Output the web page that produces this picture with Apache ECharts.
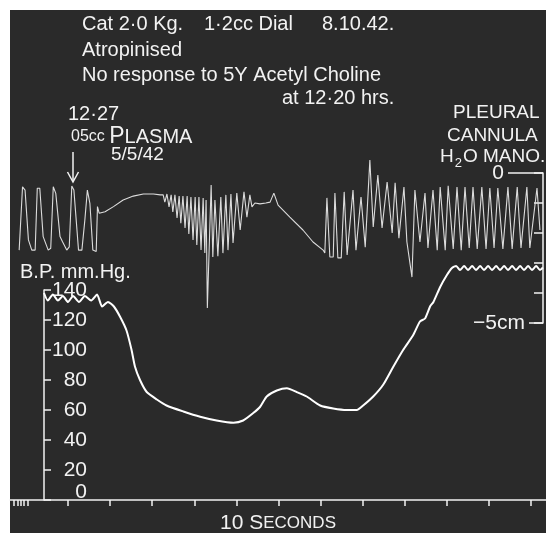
<!DOCTYPE html>
<html>
<head>
<meta charset="utf-8">
<title>Cat 2.0 Kg - B.P. and pleural pressure</title>
<script src="https://cdn.jsdelivr.net/npm/echarts@6/dist/echarts.min.js"></script>
<style>
html, body { margin: 0; padding: 0; background: #fff; }
#chart { width: 546px; height: 533px; }
</style>
</head>
<body>
<div id="chart"></div>
<script>
// blood pressure, [seconds, mm Hg]
var bpPoints = [
  [-5.7, 138], [-4.8, 133], [-3.6, 137], [-2.4, 133], [-1.2, 136], [0, 132], [1.2, 136],
  [2.6, 132], [4.0, 136], [5.5, 133], [6.9, 137], [8.1, 129], [9.5, 132], [10.9, 129],
  [12.4, 122], [13.9, 113], [15.1, 100], [15.9, 89], [17.1, 80], [18.7, 72], [21.1, 67],
  [23.4, 63], [27.4, 59], [31.4, 55.5], [35.3, 53], [39.3, 51.5], [41.6, 53], [44.0, 58],
  [45.6, 62], [47.2, 69], [49.6, 73], [52.0, 74.5], [54.3, 72], [56.7, 69], [59.9, 63],
  [63.0, 61], [66.2, 60], [68.6, 60], [70.1, 63], [72.5, 69], [74.9, 77], [77.3, 89],
  [79.6, 100], [82.0, 110], [83.6, 119], [84.8, 121], [86.0, 129], [86.8, 132], [88.4, 142],
  [90.0, 150], [91.2, 154.7], [92.2, 156], [93.1, 153.3], [94.1, 156], [95.0, 153.3],
  [96.0, 156], [96.9, 153.3], [97.9, 156], [98.8, 153.3], [99.8, 156], [100.7, 153.3],
  [101.7, 156], [102.6, 153.3], [103.6, 156], [104.5, 153.3], [105.5, 156], [106.4, 153.3],
  [107.4, 156], [108.3, 153.3], [109.3, 156], [110.2, 153.3], [111.2, 156], [112.1, 153.3],
  [112.8, 155]
];

// pleural cannula, water manometer, [seconds, cm H2O]
var pleuralPoints = [
  [-11.6, -2.57], [-10.8, -0.46], [-10.2, -0.57], [-9.4, -2.23], [-8.6, -2.57], [-7.8, -2.57],
  [-7.3, -0.51], [-6.7, -0.51], [-5.9, -2.12], [-4.7, -2.57], [-4.1, -2.51], [-3.5, -0.46],
  [-2.9, -0.68], [-1.9, -2.12], [-1.3, -2.29], [-0.3, -2.57], [0.3, -2.46], [0.9, -0.43],
  [1.4, -0.57], [2.5, -2.57], [3.3, -2.57], [4.0, -1.57], [4.6, -0.57], [5.2, -1.01],
  [5.9, -2.57], [6.7, -2.62], [7.0, -1.12], [7.4, -1.34], [8.8, -1.29], [10.8, -1.12],
  [13.1, -0.90], [15.5, -0.77], [17.9, -0.70], [20.3, -0.70], [21.9, -0.73],
  [22.6, -0.73], [23.0, -0.97], [23.5, -0.70], [24.0, -1.13], [24.5, -0.73], [24.9, -1.30],
  [25.4, -0.73], [25.9, -1.50], [26.4, -0.77], [26.8, -1.67], [27.3, -0.77], [27.8, -1.83],
  [28.3, -0.77], [28.7, -2.03], [29.2, -0.80], [29.7, -2.23], [30.2, -0.80], [30.6, -2.40],
  [31.1, -0.80], [31.6, -2.57], [32.1, -0.83], [32.5, -2.67], [32.8, -0.90], [33.1, -4.50],
  [34.0, -0.40], [34.4, -2.80], [34.9, -0.90], [35.6, -2.77], [36.3, -0.80], [36.8, -2.67],
  [37.5, -0.73], [38.0, -2.57], [38.7, -0.70], [39.2, -2.33], [40.1, -0.67], [40.9, -1.90],
  [41.8, -0.63], [42.5, -1.47], [43.2, -0.73], [43.7, -1.13], [44.4, -1.00], [45.6, -1.03],
  [47.0, -1.00], [48.0, -0.97], [48.9, -0.67], [49.9, -1.07], [52.7, -1.47], [55.8, -1.90],
  [58.2, -2.30], [60.6, -2.57], [61.0, -2.67],
  [61.5, -0.83], [62.2, -2.80], [63.0, -2.80], [63.4, -0.67], [64.1, -2.83], [64.9, -2.83],
  [65.6, -0.63], [66.3, -2.73], [67.7, -0.57], [68.4, -2.57], [69.6, -0.80], [70.6, -2.47],
  [71.7, 0.43], [72.5, -1.80], [73.6, -0.07], [74.6, -1.83], [75.8, -0.30], [77.0, -2.00],
  [77.7, -0.33], [78.6, -2.17], [79.8, -0.47], [80.5, -2.30], [81.7, -3.47], [82.4, -0.57],
  [83.6, -2.30], [84.8, -0.67], [85.5, -2.50], [86.7, -0.57], [87.7, -2.57], [88.4, -0.47],
  [89.6, -2.57], [90.3, -0.43], [91.5, -2.53], [92.4, -0.47], [93.4, -2.57], [94.3, -0.47],
  [95.3, -2.50], [96.2, -0.47], [97.2, -2.53], [98.3, -0.47], [99.3, -2.53], [100.2, -0.50],
  [101.2, -2.50], [102.1, -0.50], [103.3, -2.53], [104.5, -0.47], [105.5, -2.53], [106.7, -0.47],
  [107.6, -2.50], [109.0, -0.47], [109.7, -2.50], [111.4, -0.50], [112.1, -1.90]
];

// time marker, seconds
var timeTicks = [0, 10, 20, 30, 40, 50, 60, 70, 80, 90, 100, 110];
var fineTimeTicks = [-12.8, -12, -11.2, -10.4, -9.6];

var INK = '#f2f2f2';
var FONT = '"Liberation Sans Narrow", "Liberation Sans", sans-serif';
var PX_PER_S = 4.21, T0_PX = 68;   // kymograph speed on the page
function secAt(px) { return (px - T0_PX) / PX_PER_S; }

function note(text, x, y, size, rich) {
  var st = { text: text, x: x, y: y, fill: INK, font: size + 'px ' + FONT, verticalAlign: 'middle' };
  if (rich) st.rich = rich;
  return { type: 'text', z: 10, silent: true, style: st };
}

var chart = echarts.init(document.getElementById('chart'));

chart.setOption({
  animation: false,
  backgroundColor: '#ffffff',
  textStyle: { fontFamily: FONT, color: INK },
  grid: [
    { left: 10, right: 0, top: 400, bottom: 33, outerBoundsMode: 'none' },   // time marker
    { left: 44, right: 0, top: 290, bottom: 33, outerBoundsMode: 'none' },   // blood pressure
    { left: 10, right: 3, top: 173, bottom: 210, outerBoundsMode: 'none' }   // pleural pressure
  ],
  xAxis: [
    {
      gridIndex: 0, type: 'value', min: secAt(10), max: secAt(546),
      axisLine: { onZero: false, lineStyle: { color: INK, width: 1.5 } },
      axisTick: { customValues: fineTimeTicks.concat(timeTicks), length: 6, lineStyle: { color: INK, width: 1.5 } },
      axisLabel: { show: false },
      splitLine: { show: false },
      name: '{b|10 S}{s|ECONDS}', nameLocation: 'middle', nameGap: 13,
      nameTextStyle: {
        rich: {
          b: { fontSize: 21, color: INK, fontFamily: FONT },
          s: { fontSize: 17, color: INK, fontFamily: FONT }
        }
      }
    },
    { gridIndex: 1, type: 'value', min: secAt(44), max: secAt(546), show: false },
    { gridIndex: 2, type: 'value', min: secAt(10), max: secAt(543), show: false }
  ],
  yAxis: [
    { gridIndex: 0, type: 'value', min: 0, max: 1, show: false },
    {
      gridIndex: 1, type: 'value', min: 0, max: 140, interval: 20,
      axisLine: { show: true, onZero: false, lineStyle: { color: INK, width: 1.5 } },
      axisTick: { show: true, inside: true, length: 7, lineStyle: { color: INK, width: 1.5 } },
      axisLabel: {
        inside: true, margin: 43, align: 'right', color: INK, fontFamily: FONT, fontSize: 21,
        formatter: function (v) { return v === 0 ? '{z|0}' : String(v); },
        rich: { z: { fontSize: 21, color: INK, fontFamily: FONT, padding: [0, 0, 16, 0] } }
      },
      splitLine: { show: false }
    },
    {
      gridIndex: 2, type: 'value', position: 'right', min: -5, max: 0, interval: 1,
      axisLine: { show: true, onZero: false, lineStyle: { color: INK, width: 1.5 } },
      axisTick: { show: true, inside: true, length: 9, lineStyle: { color: INK, width: 1.5 } },
      axisLabel: {
        inside: true, margin: 0, color: INK,
        formatter: function (v) {
          if (v === 0) return '{n|0}{ln|}';
          if (v === -5) return '{n|\u22125cm}{sh|}';
          return '';
        },
        rich: {
          n: { fontSize: 21, color: INK, fontFamily: FONT, padding: [0, 4, 0, 0] },
          ln: { width: 35, height: 1.5, backgroundColor: INK, verticalAlign: 'middle' },
          sh: { width: 14, height: 1.5, backgroundColor: INK, verticalAlign: 'middle' }
        }
      },
      splitLine: { show: false }
    }
  ],
  series: [
    {
      name: 'B.P. mm.Hg.', type: 'line', xAxisIndex: 1, yAxisIndex: 1,
      data: bpPoints, showSymbol: false, smooth: 0.2, clip: false,
      lineStyle: { color: '#ffffff', width: 2 }
    },
    {
      name: 'Pleural cannula H2O mano.', type: 'line', xAxisIndex: 2, yAxisIndex: 2,
      data: pleuralPoints, showSymbol: false, clip: false,
      lineStyle: { color: '#dcdcdc', width: 1.1 }
    }
  ],
  graphic: [
    { type: 'rect', z: -100, silent: true, shape: { x: 10, y: 10, width: 536, height: 523 }, style: { fill: '#2a2a2a' } },
    note('Cat 2\u00b70 Kg.', 82, 24, 20),
    note('1\u00b72cc Dial', 204, 24, 20),
    note('8.10.42.', 322, 24, 20),
    note('Atropinised', 82, 50, 20),
    note('No response to 5Y Acetyl Choline', 82, 75, 20),
    note('at 12\u00b720 hrs.', 282, 98, 20),
    note('12\u00b727', 68, 114, 20),
    note('{a|05cc }{p|P}{s|LASMA}', 71, 137, 20, {
      a: { fontSize: 16, fill: INK, fontFamily: FONT },
      p: { fontSize: 23, fill: INK, fontFamily: FONT },
      s: { fontSize: 20, fill: INK, fontFamily: FONT }
    }),
    note('5/5/42', 111, 155, 19),
    { type: 'line', z: 10, silent: true, shape: { x1: 73, y1: 152, x2: 73, y2: 181 }, style: { stroke: INK, lineWidth: 1.5 } },
    { type: 'polyline', z: 10, silent: true, shape: { points: [[67.5, 172], [73, 182], [78.5, 172]] }, style: { stroke: INK, lineWidth: 1.5, fill: null } },
    note('PLEURAL', 453, 113, 19),
    note('CANNULA', 447, 136, 19),
    note('{m|H}{sub|2}{m|O MANO.}', 440, 157, 19, {
      m: { fontSize: 19, fill: INK, fontFamily: FONT },
      sub: { fontSize: 13, fill: INK, fontFamily: FONT, padding: [12, 1, 0, 1] }
    }),
    note('B.P. mm.Hg.', 20, 272, 20)
  ]
});
</script>
</body>
</html>
